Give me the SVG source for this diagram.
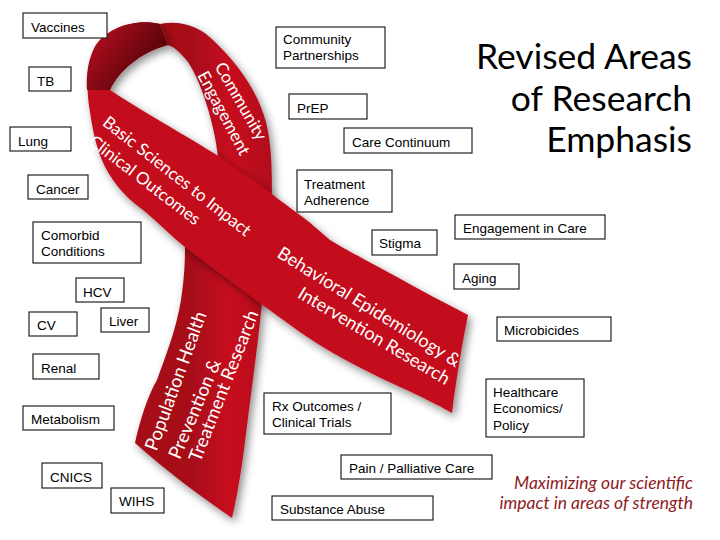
<svg xmlns="http://www.w3.org/2000/svg" width="720" height="540" viewBox="0 0 720 540">
<style>
.box{fill:#fff;stroke:#222;stroke-width:1.2}
.bt{font-family:"Liberation Sans",Arial,sans-serif;font-size:13.5px;fill:#000}
.rt{font-family:Lato,"Open Sans",sans-serif;fill:#fff;text-anchor:middle}
.title{font-family:Lato,"Open Sans",sans-serif;font-size:35.5px;fill:#000;text-anchor:end}
.tag{font-family:Lato,"Open Sans",sans-serif;font-style:italic;font-size:17.5px;fill:#8E1B1E;text-anchor:end}
</style>
<defs>
<filter id="sh" x="-20%" y="-20%" width="140%" height="140%">
<feDropShadow dx="3" dy="4" stdDeviation="4.5" flood-color="#000" flood-opacity="0.45"/>
</filter>
<linearGradient id="back" gradientUnits="userSpaceOnUse" x1="140" y1="72" x2="98" y2="40">
<stop offset="0" stop-color="#5e050c"/>
<stop offset="1" stop-color="#a80c1b"/>
</linearGradient>
<linearGradient id="bandB" gradientUnits="userSpaceOnUse" x1="190" y1="0" x2="270" y2="0">
<stop offset="0" stop-color="#a60b19"/>
<stop offset="0.5" stop-color="#c7111f"/>
<stop offset="1" stop-color="#b30d1c"/>
</linearGradient>
</defs>
<rect width="720" height="540" fill="#fff"/>

<g id="ribbon">
<path id="band-b" filter="url(#sh)" fill="url(#bandB)" d="M160,24 C180,20 200,26 215,42 C238,64 258,92 266,122 C272,145 272,175 272,200 C272,240 266,270 262,303 C256,360 250,400 244,450 C240,480 236,500 232,518 C200,496 165,470 135,443 C140,420 148,395 157,380 C166,355 176,330 181,300 C184,280 185,265 185,247 C195,215 210,185 218,157 C214,120 200,80 188,62 C180,52 174,47 168,45 Z"/>
<path id="band-a" filter="url(#sh)" fill="#c4101f" d="M160,24 C135,18 108,28 96,45 C86,62 86,90 90,112 C94,140 100,162 113,180 C122,193 132,202 143,210 C160,224 172,237 185,247 L260,303 C290,325 310,340 333,353 C360,368 380,378 400,387 C420,396 438,405 452,413 C456,380 462,345 468,315 C445,303 420,290 397,277 C375,265 350,252 330,240 C318,230 310,222 300,215 C285,204 270,193 260,185 C245,175 232,166 220,157 C185,135 140,110 110,90 C118,72 140,52 168,45 Z"/>
<path id="loop-back" fill="url(#back)" d="M160,24 C135,18 108,28 96,45 C88,58 86,75 87,90 L110,90 C118,72 140,52 168,45 Z"/>
<text class="rt" font-size="17" transform="translate(241,101) rotate(60)" y="6">Community</text>
<text class="rt" font-size="17" transform="translate(224,113) rotate(62)" y="6">Engagement</text>
<text class="rt" font-size="17" transform="translate(177,176) rotate(38)" y="6">Basic Sciences to Impact</text>
<text class="rt" font-size="17" transform="translate(145,180) rotate(37.5)" y="6">Clinical Outcomes</text>
<text class="rt" font-size="18" transform="translate(369,307) rotate(31.7)" y="6">Behavioral Epidemiology &amp;</text>
<text class="rt" font-size="18" transform="translate(374,336) rotate(30.7)" y="6">Intervention Research</text>
<text class="rt" font-size="18.5" transform="translate(176,381) rotate(-70)" y="6">Population Health</text>
<text class="rt" font-size="18.5" transform="translate(195,409) rotate(-67)" y="6">Prevention &amp;</text>
<text class="rt" font-size="18.5" transform="translate(224,386) rotate(-68.6)" y="6">Treatment Research</text>
</g>

<g id="title">
<text class="title" x="692" y="69">Revised Areas</text>
<text class="title" x="692" y="111">of Research</text>
<text class="title" x="692" y="152">Emphasis</text>
</g>
<g id="tagline">
<text class="tag" x="693" y="489">Maximizing our scientific</text>
<text class="tag" x="693" y="509">impact in areas of strength</text>
</g>

<g id="connectors"></g>

<g id="n-vaccines"><rect class="box" x="23" y="13" width="84" height="25"/><text class="bt" x="31" y="32">Vaccines</text></g>
<g id="n-tb"><rect class="box" x="29" y="67" width="42" height="24"/><text class="bt" x="37" y="86">TB</text></g>
<g id="n-lung"><rect class="box" x="10" y="127" width="61" height="24"/><text class="bt" x="18" y="146">Lung</text></g>
<g id="n-cancer"><rect class="box" x="28" y="175" width="60" height="24"/><text class="bt" x="36" y="194">Cancer</text></g>
<g id="n-comorbid"><rect class="box" x="33" y="222" width="108" height="41"/><text class="bt" x="41" y="240">Comorbid</text><text class="bt" x="41" y="256">Conditions</text></g>
<g id="n-hcv"><rect class="box" x="76" y="278" width="48" height="24"/><text class="bt" x="83" y="297">HCV</text></g>
<g id="n-cv"><rect class="box" x="29" y="312" width="48" height="24"/><text class="bt" x="37" y="330">CV</text></g>
<g id="n-liver"><rect class="box" x="101" y="308" width="48" height="24"/><text class="bt" x="109" y="326">Liver</text></g>
<g id="n-renal"><rect class="box" x="33" y="354" width="66" height="25"/><text class="bt" x="41" y="373">Renal</text></g>
<g id="n-metabolism"><rect class="box" x="23" y="406" width="91" height="24"/><text class="bt" x="31" y="424">Metabolism</text></g>
<g id="n-cnics"><rect class="box" x="42" y="463" width="60" height="25"/><text class="bt" x="50" y="482">CNICS</text></g>
<g id="n-wihs"><rect class="box" x="111" y="488" width="53" height="25"/><text class="bt" x="119" y="506">WIHS</text></g>
<g id="n-community"><rect class="box" x="276" y="27" width="109" height="41"/><text class="bt" x="283" y="44">Community</text><text class="bt" x="283" y="60">Partnerships</text></g>
<g id="n-prep"><rect class="box" x="289" y="94" width="78" height="25"/><text class="bt" x="297" y="113">PrEP</text></g>
<g id="n-care"><rect class="box" x="344" y="128" width="128" height="25"/><text class="bt" x="352" y="147">Care Continuum</text></g>
<g id="n-adherence"><rect class="box" x="297" y="170" width="95" height="42"/><text class="bt" x="304" y="189">Treatment</text><text class="bt" x="304" y="205">Adherence</text></g>
<g id="n-stigma"><rect class="box" x="372" y="230" width="65" height="25"/><text class="bt" x="379" y="248">Stigma</text></g>
<g id="n-engagement"><rect class="box" x="455" y="215" width="150" height="24"/><text class="bt" x="463" y="233">Engagement in Care</text></g>
<g id="n-aging"><rect class="box" x="454" y="264" width="65" height="25"/><text class="bt" x="462" y="283">Aging</text></g>
<g id="n-microbicides"><rect class="box" x="497" y="317" width="114" height="24"/><text class="bt" x="504" y="335">Microbicides</text></g>
<g id="n-healthcare"><rect class="box" x="486" y="379" width="98" height="58"/><text class="bt" x="493" y="397">Healthcare</text><text class="bt" x="493" y="413">Economics/</text><text class="bt" x="493" y="430">Policy</text></g>
<g id="n-rx"><rect class="box" x="264" y="393" width="127" height="41"/><text class="bt" x="272" y="411">Rx Outcomes /</text><text class="bt" x="272" y="427">Clinical Trials</text></g>
<g id="n-pain"><rect class="box" x="341" y="455" width="151" height="24"/><text class="bt" x="349" y="473">Pain / Palliative Care</text></g>
<g id="n-substance"><rect class="box" x="272" y="496" width="161" height="24"/><text class="bt" x="280" y="514">Substance Abuse</text></g>
</svg>
